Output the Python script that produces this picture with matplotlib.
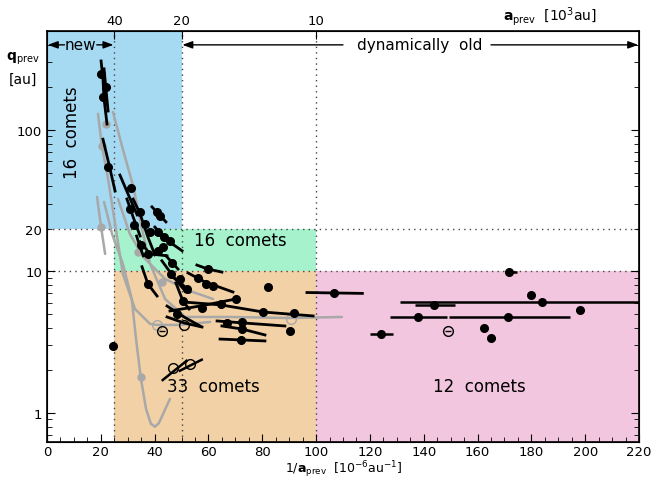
import matplotlib
matplotlib.use("Agg")
import matplotlib.pyplot as plt
from matplotlib.patches import Rectangle
from matplotlib.ticker import FixedLocator, FuncFormatter

# black tracks: 1/a_prev [1e-6 au^-1] and q_prev [au]
track_x = [
    [20.1, 20.8, 21.2, 22.3], [21.2, 21.9, 22.7], [20.8, 23.0, 25.3],
    [27.1, 30.1, 33.5], [29.7, 32.0, 34.6], [32.0, 34.6, 37.5, 40.1],
    [39.0, 44.2], [40.1, 43.9, 50.2], [34.6, 38.3, 44.6],
    [55.7, 59.8, 65.0], [35.3, 37.5, 40.9], [42.7, 46.5, 51.3],
    [44.2, 48.7], [52.4, 58.7, 69.1], [46.5, 49.4, 53.1],
    [50.5, 64.7, 80.3, 98.9], [47.9, 50.5, 52.8], [45.7, 56.9, 70.2],
    [63.2, 72.8, 88.4], [65.0, 72.5, 81.0], [64.3, 72.5, 81.0],
    [96.6, 106.7, 117.2], [44.6, 50.9, 56.9], [44.6, 50.9, 57.6],
    [33.3, 34.5, 35.8],
]
track_q = [
    [307, 229, 166, 110], [270, 195, 136], [86, 57.5, 37],
    [48, 35.3, 25.1], [32.5, 24.3, 17.8], [32.5, 25.5, 17.5, 13.1],
    [28.6, 22.4], [20.6, 17.0, 14.0], [16.2, 13.3, 12.9],
    [11.1, 10.4, 9.9], [10.8, 8.16, 6.71], [11.9, 9.45, 7.28],
    [12.9, 10.4], [9.76, 8.43, 7.16], [9.15, 8.43, 7.16],
    [6.09, 5.80, 5.17, 4.85], [8.30, 6.19, 5.43], [5.26, 5.70, 6.39],
    [4.47, 4.33, 4.12], [4.12, 3.92, 3.56], [3.33, 3.28, 3.23],
    [7.1, 7.05, 7.0], [5.70, 4.77, 4.12], [4.77, 4.33, 4.05],
    [17.8, 15.0, 12.9],
]
dot_x = [20.1, 20.8, 21.9, 22.7, 31.2, 30.8, 32.3, 34.6, 36.4, 38.3, 40.9, 42.0,
         41.3, 43.5, 45.7, 37.5, 41.3, 43.1, 59.8, 37.5, 46.1, 46.5, 56.1, 59.1,
         61.7, 49.4, 52.0, 64.7, 80.3, 91.8, 50.5, 70.2, 57.6, 66.9, 72.5, 72.5,
         72.1, 82.1, 90.3, 106.7, 24.5, 48.2, 34.8]
dot_q = [249, 171, 201, 54.8, 38.9, 27.7, 21.3, 26.3, 21.7, 19.0, 26.3, 24.7,
         19.0, 17.5, 16.4, 13.3, 14.0, 14.9, 10.4, 8.16, 9.6, 11.5, 9.0, 8.16,
         7.90, 8.85, 7.52, 5.89, 5.17, 5.09, 6.19, 6.39, 5.5, 4.33, 4.39, 3.92,
         3.28, 7.77, 3.80, 7.05, 2.97, 5.01, 15.5]

# grey curves (other solutions)
grey_x = [
    [18.6, 20.1, 21.6],
    [21.2, 24.2, 28.2, 31.5, 33.1, 34.8, 36.8, 38.6, 40.1, 41.6, 43.5, 45.7],
    [18.95, 20.4, 22.7, 25.3, 28.2, 32.7, 38.3, 40.9, 49.4, 60.6],
    [24.5, 28.2, 32.0, 35.3, 38.3, 43.9, 51.3, 68.0, 90.3, 109.6],
    [26.4, 30.8, 35.7, 43.9, 53.1, 61.7],
]
grey_q = [
    [33.6, 20.6, 13.3],
    [31.0, 18.4, 11.3, 6.39, 3.33, 1.80, 1.07, 0.84, 0.80, 0.85, 1.02, 1.26],
    [130, 77, 45, 21.7, 9.6, 5.43, 4.26, 4.19, 4.19, 4.40],
    [134, 73, 40.2, 20, 11.3, 6.39, 4.77, 4.77, 4.69, 4.77],
    [32.5, 18.4, 12.7, 8.85, 7.28, 6.39],
]
grey_dot_x = [20.1, 34.8, 20.3, 21.8, 33.9, 42.6]
grey_dot_q = [20.6, 1.80, 77, 110, 13.7, 8.39]
grey_open_x = [40.8, 90.6]
grey_open_q = [4.19, 4.62]

# open circles
open_minus_x = [42.7, 148.9]
open_minus_q = [3.80, 3.82]
open_x = [50.9]
open_q = [4.19]
slant_x = [[43.0, 51.9], [49.4, 57.5]]
slant_q = [[1.71, 2.34], [1.99, 2.38]]
slant_circ_x = [46.9, 53.1]
slant_circ_q = [2.07, 2.22]

# dynamically old comets with 1/a uncertainty
old_x = [171.7, 179.9, 184.1, 198.1, 143.8, 137.8, 171.2, 124.0, 162.5, 165.0]
old_q = [9.87, 6.86, 6.12, 5.35, 5.83, 4.80, 4.80, 3.64, 3.99, 3.37]
old_lo = [170.2, 179.9, 131.2, 196.5, 136.8, 127.5, 149.5, 120.0, 162.5, 163.5]
old_hi = [174.5, 179.9, 225.0, 199.7, 151.6, 148.8, 194.4, 128.5, 162.5, 166.5]

top_ticks = [25, 50, 100]
top_labels = ['40', '20', '10']

c_blue = '#a6d9f2'
c_green = '#a6f2cc'
c_orange = '#f2d1a6'
c_pink = '#f2c6de'
c_grey = '#a8a8a8'

ymin, ymax = 0.624, 500

fig = plt.figure(figsize=(6.61, 4.81), dpi=100)
ax = fig.add_axes([0.0711, 0.079, 0.8956, 0.8545])
ax.set_yscale('log')
ax.set_xlim(0, 220)
ax.set_ylim(ymin, ymax)

# coloured regions
ax.add_patch(Rectangle((0, 20), 50, ymax - 20, color=c_blue, lw=0, zorder=0))
ax.add_patch(Rectangle((25, 10), 75, 10, color=c_green, lw=0, zorder=0))
ax.add_patch(Rectangle((25, ymin), 75, 10 - ymin, color=c_orange, lw=0, zorder=0))
ax.add_patch(Rectangle((100, ymin), 120, 10 - ymin, color=c_pink, lw=0, zorder=0))

for xv in [25, 50, 100]:
    ax.axvline(xv, color='#444444', ls=(0, (1, 3)), lw=1, zorder=1)
for yv in [10, 20]:
    ax.axhline(yv, color='#444444', ls=(0, (1, 3)), lw=1, zorder=1)

for gx, gq in zip(grey_x, grey_q):
    ax.plot(gx, gq, color=c_grey, lw=1.8, zorder=2, solid_capstyle='round')
ax.plot(grey_dot_x, grey_dot_q, 'o', color=c_grey, ms=5, zorder=2)
ax.plot(grey_open_x, grey_open_q, 'o', mfc='none', mec=c_grey, ms=7, mew=1, zorder=2)

for tx, tq in zip(track_x, track_q):
    ax.plot(tx, tq, color='black', lw=2, zorder=3)
ax.plot(dot_x, dot_q, 'o', color='black', ms=5.5, zorder=4)

xerr = [[x - lo for x, lo in zip(old_x, old_lo)], [hi - x for x, hi in zip(old_x, old_hi)]]
ax.errorbar(old_x, old_q, xerr=xerr, fmt='o', color='black', ms=5.5, elinewidth=1.8,
            capsize=0, zorder=4)

ax.plot(open_minus_x, open_minus_q, 'o', mfc='none', mec='black', ms=7, mew=1, zorder=4)
ax.plot(open_minus_x, open_minus_q, '_', color='black', ms=4, mew=1, zorder=4)
ax.plot(open_x, open_q, 'o', mfc='none', mec='black', ms=7, mew=1, zorder=4)
for sx, sq in zip(slant_x, slant_q):
    ax.plot(sx, sq, color='black', lw=1.8, zorder=4)
ax.plot(slant_circ_x, slant_circ_q, 'o', mfc='none', mec='black', ms=7, mew=1, zorder=4)

# arrows on top
ya = 399
ap = dict(arrowstyle='-|>,head_length=0.6,head_width=0.22', color='black', lw=1, shrinkA=0, shrinkB=0)
ax.annotate('', xy=(0.3, ya), xytext=(6.5, ya), arrowprops=ap)
ax.annotate('', xy=(24.7, ya), xytext=(18.5, ya), arrowprops=ap)
ax.text(12.5, ya, 'new', ha='center', va='center', fontsize=11)
ax.annotate('', xy=(50.3, ya), xytext=(110, ya), arrowprops=ap)
ax.annotate('', xy=(219.7, ya), xytext=(165, ya), arrowprops=ap)
ax.text(138.6, ya, 'dynamically  old', ha='center', va='center', fontsize=11)

ax.text(9.3, 97, '16  comets', rotation=90, ha='center', va='center', fontsize=12)
ax.text(71.7, 16.7, '16  comets', ha='center', va='center', fontsize=12)
ax.text(61.7, 1.55, '33  comets', ha='center', va='center', fontsize=12)
ax.text(160.5, 1.55, '12  comets', ha='center', va='center', fontsize=12)

# ticks
ax.set_xticks(range(0, 221, 20))
ax.xaxis.set_minor_locator(FixedLocator(range(0, 221, 5)))
ax.yaxis.set_major_locator(FixedLocator([1, 10, 100]))
minors = [m * d for d in [0.1, 1, 10, 100] for m in range(2, 10)]
ax.yaxis.set_minor_locator(FixedLocator(minors))
ax.yaxis.set_major_formatter(FuncFormatter(lambda v, p: '%g' % v))
ax.yaxis.set_minor_formatter(FuncFormatter(lambda v, p: '20' if abs(v - 20) < 0.1 else ''))
ax.tick_params(which='both', direction='in', right=True, top=False, labelsize=9.5)
ax.tick_params(axis='x', which='both', pad=2)
ax.tick_params(which='major', length=6)
ax.tick_params(which='minor', length=3.5)
for sp in ax.spines.values():
    sp.set_linewidth(1.2)

ax2 = ax.twiny()
ax2.set_xlim(0, 220)
ax2.set_xticks(top_ticks)
ax2.set_xticklabels(top_labels)
ax2.tick_params(direction='in', length=6, labelsize=9.5, pad=3)

fig.text(0.52, 0.002, r'$1/\mathbf{a}_{\rm prev}$  [10$^{-6}$au$^{-1}$]', ha='center', va='bottom', fontsize=9)
fig.text(0.832, 0.965, r'$\mathbf{a}_{\rm prev}$  [10$^{3}$au]', ha='center', va='center', fontsize=10)
fig.text(0.035, 0.878, r'$\mathbf{q}_{\rm prev}$', ha='center', va='center', fontsize=10)
fig.text(0.035, 0.835, '[au]', ha='center', va='center', fontsize=10)

fig.savefig('out.png', dpi=100)
